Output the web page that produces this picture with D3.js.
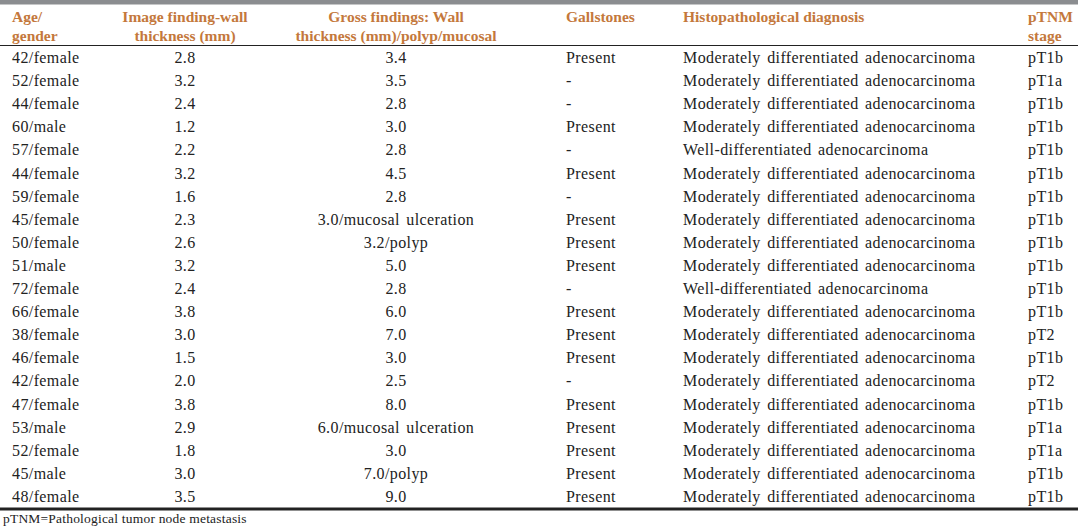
<!DOCTYPE html>
<html><head><meta charset="utf-8">
<script src="https://cdn.jsdelivr.net/npm/d3@7"></script>
<style>body{margin:0;background:#fff;} svg{display:block;}</style>
</head><body>
<script>
const ages = ["42/female","52/female","44/female","60/male","57/female","44/female","59/female","45/female","50/female","51/male","72/female","66/female","38/female","46/female","42/female","47/female","53/male","52/female","45/male","48/female"];
const imageWall = ["2.8","3.2","2.4","1.2","2.2","3.2","1.6","2.3","2.6","3.2","2.4","3.8","3.0","1.5","2.0","3.8","2.9","1.8","3.0","3.5"];
const gross = ["3.4","3.5","2.8","3.0","2.8","4.5","2.8","3.0/mucosal ulceration","3.2/polyp","5.0","2.8","6.0","7.0","3.0","2.5","8.0","6.0/mucosal ulceration","3.0","7.0/polyp","9.0"];
const gallstones = ["Present","-","-","Present","-","Present","-","Present","Present","Present","-","Present","Present","Present","-","Present","Present","Present","Present","Present"];
const diagnosis = ["Moderately differentiated adenocarcinoma","Moderately differentiated adenocarcinoma","Moderately differentiated adenocarcinoma","Moderately differentiated adenocarcinoma","Well-differentiated adenocarcinoma","Moderately differentiated adenocarcinoma","Moderately differentiated adenocarcinoma","Moderately differentiated adenocarcinoma","Moderately differentiated adenocarcinoma","Moderately differentiated adenocarcinoma","Well-differentiated adenocarcinoma","Moderately differentiated adenocarcinoma","Moderately differentiated adenocarcinoma","Moderately differentiated adenocarcinoma","Moderately differentiated adenocarcinoma","Moderately differentiated adenocarcinoma","Moderately differentiated adenocarcinoma","Moderately differentiated adenocarcinoma","Moderately differentiated adenocarcinoma","Moderately differentiated adenocarcinoma"];
const stage = ["pT1b","pT1a","pT1b","pT1b","pT1b","pT1b","pT1b","pT1b","pT1b","pT1b","pT1b","pT1b","pT2","pT1b","pT2","pT1b","pT1a","pT1a","pT1b","pT1b"];
const headers = [["Age/","gender"],["Image finding-wall","thickness (mm)"],["Gross findings: Wall","thickness (mm)/polyp/mucosal"],["Gallstones"],["Histopathological diagnosis"],["pTNM","stage"]];
const footnote = "pTNM=Pathological tumor node metastasis";

const W = 1078, H = 527;
const svg = d3.select("body").append("svg").attr("width", W).attr("height", H);
const font = "'Liberation Serif','Times New Roman',serif";

const cols = [
  {x: 12, anchor: "start", data: ages},
  {x: 185, anchor: "middle", data: imageWall},
  {x: 396, anchor: "middle", data: gross},
  {x: 566, anchor: "start", data: gallstones},
  {x: 683, anchor: "start", data: diagnosis},
  {x: 1028, anchor: "start", data: stage}
];

svg.append("rect").attr("x",0).attr("y",0).attr("width",W).attr("height",4.5).attr("fill","#8b8d90");

// header
const hdr = svg.append("g").attr("font-family", font).attr("font-weight","bold").attr("font-size",15.5).attr("fill","#c4783c");
headers.forEach((h,i)=>{
  h.forEach((line,j)=>{
    hdr.append("text").attr("x", cols[i].x).attr("y", 22 + j*19).attr("text-anchor", cols[i].anchor).text(line);
  });
});
svg.append("line").attr("x1",0).attr("x2",W).attr("y1",45.5).attr("y2",45.5).attr("stroke","#222").attr("stroke-width",1.2);

const y = d3.scaleBand().domain(d3.range(ages.length)).range([46, 508]);
const body = svg.append("g").attr("font-family", font).attr("font-size",16)
  .attr("letter-spacing",0.4).attr("word-spacing",2).attr("fill","#222");
cols.forEach(c=>{
  body.selectAll(null).data(c.data).join("text")
    .attr("x", c.x).attr("y", (d,i)=> y(i) + y.bandwidth()/2 + 5.5)
    .attr("text-anchor", c.anchor).text(d=>d);
});

svg.append("rect").attr("x",0).attr("y",507.5).attr("width",W).attr("height",3).attr("fill","#222");
svg.append("text").attr("x",3).attr("y",523).attr("font-family",font).attr("font-size",13.5)
  .attr("letter-spacing",0.2).attr("fill","#222").text(footnote);
</script>
</body></html>
